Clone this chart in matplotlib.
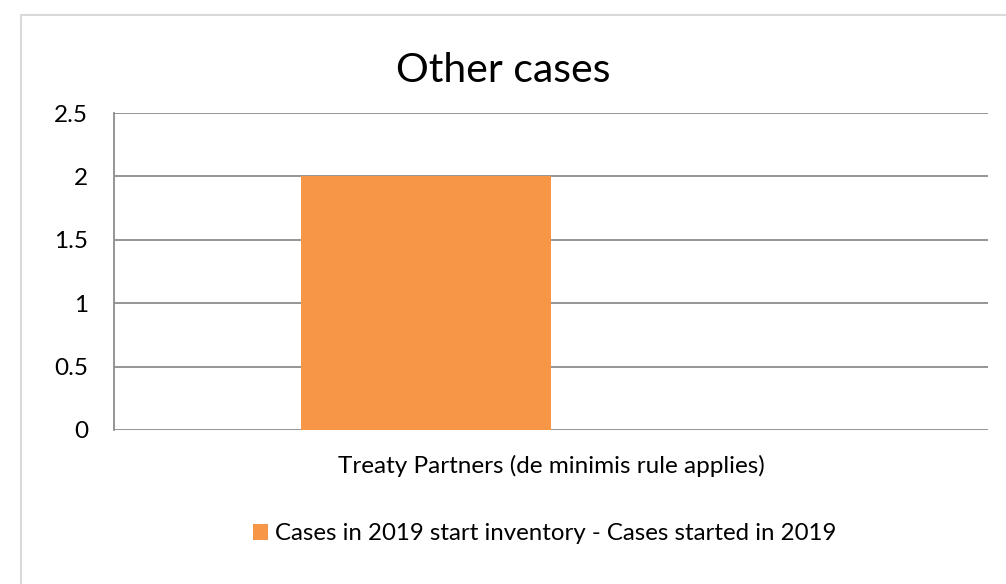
import numpy as np
import matplotlib.pyplot as plt
from matplotlib.patches import Rectangle

plt.rcParams['font.family'] = ['Lato', 'DejaVu Sans']

# dati
categorie = ['Treaty Partners (de minimis rule applies)']
serie = ['Cases in 2019 start inventory - Cases started in 2019', '']
valori = [[2], [0]]
colori = ['#F79646', 'none']
yticks = [0, 0.5, 1, 1.5, 2, 2.5]

fig = plt.figure(figsize=(10.06, 5.84), dpi=100)
ax = fig.add_axes([114/1006, 1-430/584, 874/1006, 317/584])

# bordo del grafico
fig.patches.append(Rectangle((21/1006, -0.1), 1.2, 1-15/584+0.1, transform=fig.transFigure,
                             fill=False, edgecolor='#d9d9d9', linewidth=1.5, zorder=0))

x = np.arange(len(categorie))
w = 0.286
bars = []
for i in range(len(serie)):
    off = (i - (len(serie)-1)/2)*w
    b = ax.bar(x+off, valori[i], w, color=colori[i], zorder=3)
    bars.append(b)

ax.set_xlim(-0.5, 0.5)
ax.set_ylim(0, 2.5)
ax.set_yticks(yticks)
ax.set_yticklabels(['0', '0.5', '1', '1.5', '2', '2.5'])
ax.set_xticks(x)
ax.set_xticklabels(categorie)
ax.tick_params(length=0, labelsize=17.5, colors='#000000')
ax.tick_params(axis='y', pad=18.5)
ax.tick_params(axis='x', pad=18)
ax.grid(axis='y', color='#8c8c8c', linewidth=1.3, zorder=0)
for s in ['top', 'right', 'bottom']:
    ax.spines[s].set_visible(False)
ax.spines['left'].set_color('#8c8c8c')
ax.spines['left'].set_linewidth(1.3)

fig.text(0.5, 1-70/584, 'Other cases', ha='center', va='center', fontsize=29.5)

fig.legend([bars[0]], [serie[0]], loc='center', bbox_to_anchor=(545/1006, 1-534/584),
           frameon=False, fontsize=17.3, handlelength=0.62, handleheight=0.62, handletextpad=0.3)

fig.savefig('out.png', dpi=100, facecolor='white')
